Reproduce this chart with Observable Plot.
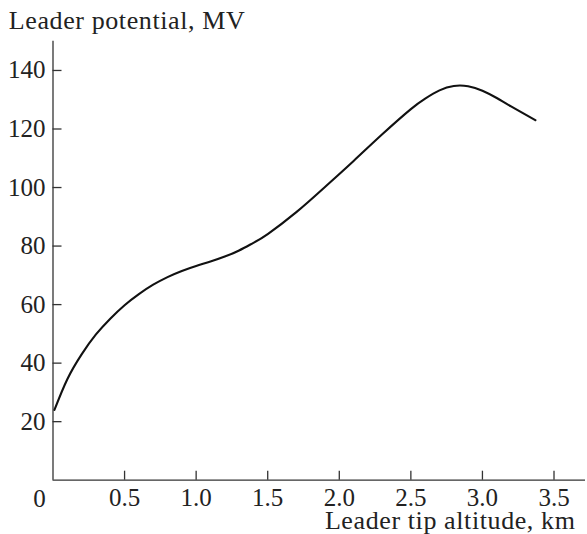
<!DOCTYPE html>
<html>
<head>
<meta charset="utf-8">
<script src="https://cdn.jsdelivr.net/npm/d3@7"></script>
<script src="https://cdn.jsdelivr.net/npm/@observablehq/plot@0.6"></script>
<style>
  html, body { margin: 0; padding: 0; background: #fff; }
  #chart svg { display: block; }
</style>
</head>
<body>
<div id="chart"></div>
<script>
// Leader tip altitude (km) and leader potential (MV)
const altitude = [0.01, 0.1, 0.2, 0.3, 0.4, 0.5, 0.6, 0.7, 0.8, 0.9, 1.0, 1.1, 1.2, 1.3, 1.4, 1.5, 1.7, 1.9, 2.1, 2.3, 2.5, 2.6, 2.7, 2.8, 2.9, 3.0, 3.1, 3.2, 3.37];
const potential = [24, 34.5, 43, 49.8, 55.2, 59.8, 63.6, 66.8, 69.4, 71.5, 73.2, 74.7, 76.4, 78.5, 81.1, 84.1, 91.6, 100.2, 109.1, 118.2, 126.8, 130.4, 133.2, 134.7, 134.6, 133.1, 130.6, 127.7, 123];

const xTicks = [0.5, 1.0, 1.5, 2.0, 2.5, 3.0, 3.5];
const yTicks = [20, 40, 60, 80, 100, 120, 140];
const originLabel = ["0"];
const xTitle = ["Leader tip altitude, km"];
const yTitle = ["Leader potential, MV"];

const data = altitude.map((a, i) => ({altitude: a, potential: potential[i]}));

const font = "'Liberation Serif', 'Times New Roman', serif";

const chart = Plot.plot({
  width: 587,
  height: 534,
  marginLeft: 52.5,
  marginRight: 2,
  marginTop: 40.7,
  marginBottom: 54.3,
  style: {fontFamily: font, fontSize: "25px", color: "#222", background: "#fff"},
  x: {domain: [0, 3.72]},
  y: {domain: [0, 150]},
  marks: [
    // axis lines
    Plot.ruleY([0], {stroke: "#333", strokeWidth: 1.3}),
    Plot.ruleX([0], {stroke: "#333", strokeWidth: 1.3}),
    // inward ticks
    Plot.ruleX(xTicks, {x: d => d, y1: 0, y2: 0, insetTop: -9, stroke: "#333", strokeWidth: 1.3}),
    Plot.ruleY(yTicks, {y: d => d, x1: 0, x2: 0, insetRight: -9, stroke: "#333", strokeWidth: 1.3}),
    // tick labels
    Plot.axisX(xTicks, {tickSize: 0, tickPadding: 8, tickFormat: d3.format(".1f"), label: null, fontSize: 25}),
    Plot.axisY(yTicks, {tickSize: 0, tickPadding: 7.5, label: null, fontSize: 25}),
    Plot.text(originLabel, {x: 0, y: 0, text: d => d, textAnchor: "middle", dx: -13.5, dy: 26.3, lineAnchor: "bottom", fontSize: 25, fill: "#222"}),
    // titles
    Plot.text(yTitle, {frameAnchor: "top-left", text: d => d, textAnchor: "start", lineAnchor: "bottom", dx: -44.2, dy: -12.7, fontSize: 26, fill: "#222"}),
    Plot.text(xTitle, {frameAnchor: "bottom-right", text: d => d, textAnchor: "end", lineAnchor: "bottom", dx: -10, dy: 48.8, fontSize: 26, fill: "#222"}),
    // curve
    Plot.line(data, {x: "altitude", y: "potential", curve: "natural", stroke: "#111", strokeWidth: 2.1})
  ]
});

// slight letter spacing on the two axis titles, as in the reference typeface
chart.querySelectorAll('g[aria-label="text"] text').forEach(t => {
  if (t.textContent.length > 3) t.setAttribute("letter-spacing", "0.6");
});

document.getElementById("chart").appendChild(chart);
</script>
</body>
</html>
